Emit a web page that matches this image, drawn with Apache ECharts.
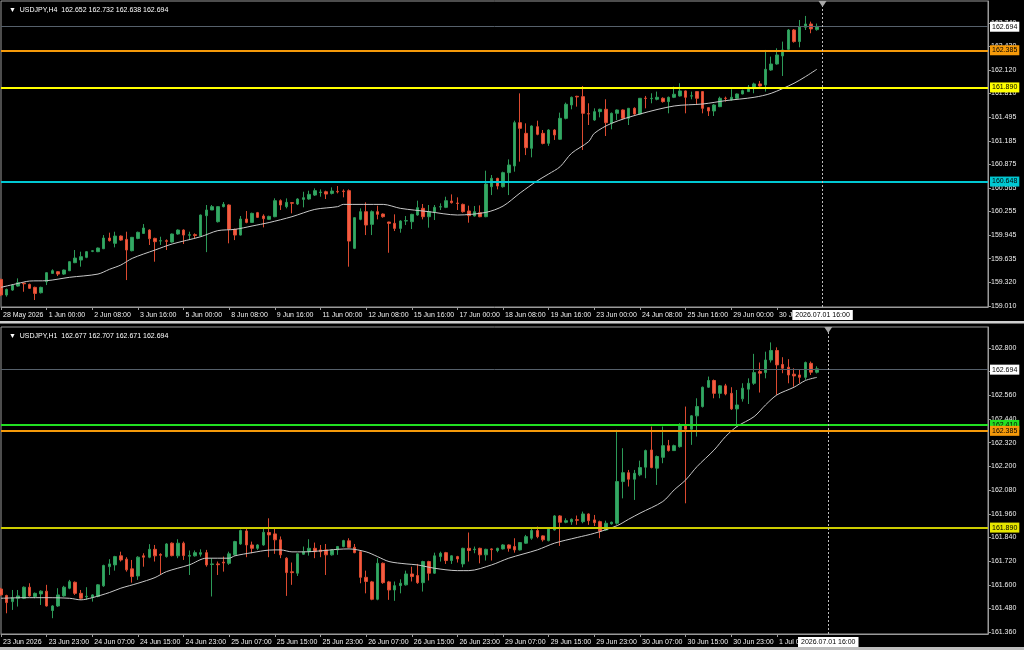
<!DOCTYPE html>
<html>
<head>
<meta charset="utf-8">
<title>USDJPY H4 / H1</title>
<script src="https://cdn.jsdelivr.net/npm/echarts@6/dist/echarts.min.js"></script>
<style>
  html, body { margin: 0; padding: 0; background: #000; }
  #chart { width: 1024px; height: 650px; }
</style>
</head>
<body>
<div id="chart"></div>
<script>
// H4 bars [open, close, low, high], 28 May 16:00 .. 1 Jul 12:00
const h4Candles = [
  [159.361,159.155,159.140,159.370],[159.155,159.229,159.133,159.240],[159.220,159.286,159.210,159.300],[159.273,159.317,159.265,159.374],
  [159.312,159.303,159.198,159.320],[159.295,159.243,159.235,159.305],[159.256,159.176,159.089,159.265],[159.185,159.256,159.175,159.265],
  [159.330,159.449,159.286,159.455],[159.440,159.475,159.435,159.493],[159.462,159.431,159.405,159.470],[159.431,159.484,159.420,159.490],
  [159.475,159.594,159.470,159.600],[159.581,159.642,159.575,159.748],[159.616,159.660,159.528,159.726],[159.651,159.726,159.640,159.735],
  [159.730,159.738,159.720,159.745],[159.726,159.774,159.720,159.780],[159.765,159.906,159.760,159.945],[159.906,159.871,159.860,159.976],
  [159.836,159.932,159.783,159.989],[159.932,159.879,159.870,159.940],[159.888,159.748,159.352,159.989],[159.739,159.915,159.730,159.920],
  [159.901,159.981,159.890,159.990],[159.967,160.038,159.960,160.090],[160.011,159.897,159.814,160.020],[159.901,159.858,159.594,159.910],
  [159.866,159.871,159.814,159.923],[159.871,159.862,159.748,159.888],[159.853,159.959,159.845,159.965],[159.959,160.011,159.950,160.020],
  [160.011,159.945,159.827,160.020],[159.942,159.950,159.879,159.989],[159.950,159.940,159.901,159.967],[159.932,160.209,159.925,160.215],
  [160.200,160.275,159.720,160.341],[160.275,160.319,160.280,160.341],[160.121,160.319,160.110,160.325],[160.319,160.350,160.310,160.380],
  [160.341,160.020,159.836,160.350],[160.020,159.945,159.879,160.030],[159.945,160.156,159.940,160.196],[160.156,160.112,160.100,160.262],
  [160.112,160.231,160.105,160.240],[160.240,160.178,160.170,160.250],[160.196,160.161,160.046,160.218],[160.152,160.191,160.145,160.200],
  [160.187,160.398,160.180,160.429],[160.398,160.341,160.275,160.415],[160.319,160.376,160.297,160.428],[160.372,160.364,160.231,160.380],
  [160.354,160.420,160.340,160.430],[160.415,160.437,160.310,160.516],[160.420,160.481,160.410,160.529],[160.472,160.530,160.460,160.560],
  [160.505,160.512,160.450,160.547],[160.516,160.485,160.420,160.530],[160.494,160.525,160.480,160.573],[160.520,160.514,160.494,160.591],
  [160.525,160.518,160.442,160.547],[160.530,159.866,159.528,160.547],[159.770,160.174,159.760,160.180],[160.152,160.253,160.140,160.297],
  [160.253,160.077,159.945,160.376],[160.086,160.253,159.945,160.270],[160.253,160.218,160.152,160.332],[160.222,160.187,160.174,160.230],
  [160.117,160.099,159.712,160.120],[160.099,160.033,159.998,160.218],[160.033,160.130,159.976,160.140],[160.130,160.135,160.077,160.196],
  [160.121,160.218,160.024,160.225],[160.209,160.306,160.200,160.398],[160.297,160.187,160.152,160.354],[160.187,160.253,160.042,160.341],
  [160.244,160.310,160.143,160.341],[160.314,160.319,160.275,160.363],[160.310,160.398,160.300,160.450],[160.393,160.371,160.360,160.481],
  [160.367,160.361,160.275,160.442],[160.349,160.253,160.240,160.360],[160.262,160.200,160.108,160.332],[160.196,160.253,160.190,160.328],
  [160.240,160.187,160.180,160.336],[160.187,160.617,160.180,160.793],[160.582,160.692,160.472,160.736],[160.692,160.591,160.547,160.700],
  [160.582,160.767,160.570,160.780],[160.767,160.868,160.472,160.942],[160.855,161.426,160.780,161.452],[161.426,161.351,160.912,161.812],
  [161.285,161.096,160.999,161.417],[161.088,161.382,160.969,161.390],[161.373,161.272,161.260,161.452],[161.285,161.153,161.140,161.329],
  [161.154,161.329,161.120,161.340],[161.329,161.264,161.198,161.340],[161.207,161.483,161.200,161.558],[161.483,161.668,161.470,161.690],
  [161.659,161.760,161.602,161.770],[161.773,161.765,161.637,161.780],[161.769,161.549,161.066,161.909],[161.545,161.540,161.395,161.681],
  [161.461,161.571,161.450,161.615],[161.571,161.602,161.496,161.610],[161.602,161.426,161.250,161.734],[161.417,161.549,161.338,161.560],
  [161.549,161.593,161.461,161.600],[161.593,161.483,161.470,161.600],[161.483,161.615,161.395,161.620],[161.615,161.540,161.530,161.628],
  [161.540,161.747,161.530,161.750],[161.749,161.745,161.615,161.778],[161.743,161.747,161.681,161.813],[161.734,161.760,161.720,161.835],
  [161.747,161.703,161.690,161.760],[161.703,161.760,161.549,161.770],[161.760,161.800,161.750,161.900],[161.778,161.844,161.770,161.945],
  [161.844,161.760,161.549,161.850],[161.776,161.780,161.734,161.835],[161.835,161.747,161.672,161.840],[161.835,161.615,161.549,161.840],
  [161.624,161.580,161.514,161.630],[161.580,161.659,161.514,161.670],[161.637,161.747,161.630,161.769],[161.749,161.745,161.703,161.769],
  [161.725,161.760,161.720,161.866],[161.747,161.804,161.740,161.810],[161.804,161.848,161.800,161.860],[161.835,161.892,161.830,161.922],
  [161.892,161.936,161.813,161.953],[161.936,161.909,161.900,161.975],[161.923,162.129,161.835,162.384],[162.120,162.199,162.110,162.296],
  [162.199,162.318,162.190,162.406],[162.305,162.384,162.041,162.494],[162.392,162.647,162.380,162.660],[162.647,162.494,162.480,162.660],
  [162.494,162.691,162.419,162.779],[162.683,162.726,162.647,162.832],[162.726,162.661,162.604,162.757],[162.652,162.694,162.638,162.732]
];

// H1 bars [open, close, low, high], 23 Jun 15:00 .. 1 Jul 14:00
const h1Candles = [
  [161.579,161.549,161.545,161.585],[161.546,161.510,161.456,161.550],[161.515,161.535,161.473,161.574],[161.532,161.544,161.490,161.574],
  [161.532,161.588,161.528,161.592],[161.588,161.544,161.540,161.608],[161.541,161.557,161.532,161.561],[161.554,161.568,161.498,161.572],
  [161.568,161.493,161.490,161.600],[161.470,161.493,161.431,161.497],[161.493,161.549,161.488,161.583],[161.544,161.588,161.540,161.595],
  [161.583,161.616,161.578,161.625],[161.613,161.557,161.549,161.617],[161.557,161.532,161.524,161.574],[161.539,161.542,161.524,161.588],
  [161.537,161.549,161.515,161.552],[161.541,161.600,161.537,161.604],[161.595,161.698,161.590,161.702],[161.692,161.706,161.650,161.730],
  [161.701,161.743,161.672,161.747],[161.747,161.726,161.718,161.768],[161.730,161.676,161.667,161.740],[161.681,161.642,161.611,161.726],
  [161.645,161.740,161.625,161.745],[161.747,161.740,161.692,161.760],[161.740,161.780,161.735,161.806],[161.780,161.747,161.718,161.802],
  [161.754,161.750,161.650,161.760],[161.743,161.807,161.738,161.811],[161.811,161.748,161.744,161.815],[161.747,161.811,161.735,161.831],
  [161.811,161.748,161.726,161.819],[161.745,161.749,161.650,161.774],[161.747,161.763,161.743,161.774],[161.755,161.763,161.743,161.780],
  [161.763,161.701,161.692,161.777],[161.703,161.706,161.541,161.735],[161.706,161.702,161.650,161.718],[161.715,161.711,161.667,161.743],
  [161.709,161.757,161.701,161.768],[161.752,161.819,161.748,161.823],[161.807,161.875,161.803,161.880],[161.873,161.802,161.740,161.887],
  [161.802,161.785,161.760,161.819],[161.785,161.802,161.777,161.806],[161.802,161.866,161.798,161.887],[161.865,161.853,161.740,161.937],
  [161.858,161.828,161.757,161.892],[161.828,161.752,161.735,161.845],[161.735,161.662,161.544,161.740],[161.666,161.662,161.600,161.713],
  [161.659,161.757,161.645,161.760],[161.755,161.768,161.752,161.794],[161.768,161.785,161.748,161.831],[161.785,161.768,161.735,161.814],
  [161.777,161.768,161.740,161.802],[161.777,161.752,161.650,161.807],[161.752,161.777,161.748,161.780],[161.777,161.794,161.752,161.797],
  [161.794,161.824,161.790,161.828],[161.823,161.790,161.786,161.836],[161.790,161.763,161.760,161.807],[161.768,161.638,161.608,161.772],
  [161.638,161.617,161.557,161.672],[161.615,161.527,161.522,161.620],[161.527,161.709,161.522,161.735],[161.709,161.611,161.605,161.713],
  [161.615,161.574,161.524,161.620],[161.574,161.596,161.519,161.617],[161.596,161.608,161.557,161.628],[161.600,161.655,161.596,161.672],
  [161.655,161.642,161.617,161.692],[161.647,161.611,161.605,161.706],[161.611,161.718,161.566,161.722],[161.718,161.659,161.622,161.722],
  [161.659,161.747,161.655,161.763],[161.743,161.760,161.718,161.768],[161.763,161.723,161.706,161.767],[161.723,161.747,161.706,161.750],
  [161.743,161.731,161.713,161.747],[161.706,161.785,161.689,161.788],[161.785,161.774,161.718,161.865],[161.778,161.781,161.760,161.794],
  [161.785,161.752,161.709,161.788],[161.752,161.780,161.723,161.783],[161.782,161.778,161.723,161.785],[161.774,161.785,161.765,161.788],
  [161.782,161.802,161.779,161.806],[161.802,161.785,161.768,161.805],[161.794,161.777,161.763,161.836],[161.777,161.814,161.774,161.817],
  [161.811,161.844,161.808,161.853],[161.836,161.875,161.828,161.892],[161.875,161.844,161.836,161.895],[161.848,161.828,161.819,161.851],
  [161.824,161.887,161.820,161.890],[161.878,161.949,161.875,161.953],[161.949,161.917,161.797,161.953],[161.917,161.925,161.912,161.937],
  [161.919,161.932,161.904,161.936],[161.930,161.927,161.904,161.951],[161.920,161.959,161.912,161.971],[161.959,161.925,161.904,161.962],
  [161.929,161.915,161.898,161.954],[161.920,161.872,161.836,161.925],[161.878,161.912,161.875,161.925],[161.909,161.917,161.905,161.920],
  [161.912,162.123,161.905,162.385],[162.123,162.168,162.038,162.292],[162.168,162.135,162.098,162.182],[162.135,162.165,162.030,162.182],
  [162.157,162.194,162.150,162.229],[162.196,162.280,162.140,162.285],[162.283,162.194,162.190,162.402],[162.191,162.250,162.106,162.255],
  [162.246,162.305,162.216,162.402],[162.305,162.280,162.275,162.334],[162.280,162.305,162.278,162.310],[162.300,162.410,162.295,162.418],
  [162.405,162.388,162.013,162.503],[162.388,162.456,162.309,162.460],[162.456,162.503,162.351,162.545],[162.503,162.601,162.498,162.604],
  [162.601,162.635,162.598,162.655],[162.635,162.570,162.545,162.640],[162.570,162.608,162.545,162.612],[162.608,162.567,162.560,162.618],
  [162.570,162.491,162.486,162.601],[162.491,162.511,162.402,162.587],[162.542,162.596,162.528,162.621],[162.591,162.621,162.516,162.646],
  [162.621,162.675,162.613,162.770],[162.680,162.672,162.574,162.726],[162.675,162.739,162.646,162.781],[162.739,162.787,162.726,162.828],
  [162.787,162.714,162.562,162.803],[162.716,162.697,162.672,162.753],[162.702,162.663,162.621,162.743],[162.667,162.658,162.604,162.697],
  [162.663,162.651,162.621,162.692],[162.651,162.726,162.638,162.731],[162.722,162.677,162.663,162.731],[162.677,162.694,162.671,162.707]
];

// moving average as [bar, value]
const h4Ma = [
  [0,159.256],[3,159.308],[5,159.339],[8,159.344],[12,159.388],[17,159.431],[19,159.493],[21,159.550],[23,159.638],
  [27,159.748],[30,159.827],[35,159.923],[38,160.003],[41,160.020],[44,160.064],[47,160.110],[51,160.187],[55,160.283],
  [59,160.319],[60,160.349],[67,160.349],[70,160.297],[75,160.253],[80,160.209],[85,160.244],[88,160.327],[91,160.500],
  [94,160.660],[96,160.750],[98,160.846],[100,161.022],[103,161.176],[104,161.286],[107,161.417],[112,161.540],
  [118,161.646],[123,161.672],[127,161.716],[132,161.760],[135,161.813],[139,161.945],[141,162.032],[143,162.129]
];
const h1Ma = [
  [0,161.532],[4,161.535],[8,161.535],[12,161.532],[14,161.524],[16,161.535],[19,161.561],[21,161.583],[24,161.608],
  [27,161.637],[29,161.667],[33,161.701],[36,161.735],[40,161.735],[41,161.747],[44,161.763],[47,161.776],[49,161.777],
  [51,161.767],[53,161.767],[56,161.772],[59,161.780],[61,161.782],[64,161.767],[66,161.743],[68,161.718],[71,161.706],
  [73,161.701],[76,161.684],[80,161.672],[82,161.672],[86,161.701],[89,161.735],[94,161.777],[97,161.811],[101,161.840],
  [104,161.861],[108,161.900],[110,161.932],[112,161.963],[116,162.022],[118,162.081],[120,162.131],[122,162.199],
  [125,162.283],[127,162.351],[129,162.402],[132,162.452],[134,162.511],[136,162.562],[139,162.601],[141,162.635],[143,162.651]
];

// horizontal price levels
const h4Levels = [162.694, 162.385, 161.890, 160.648];
const h1Levels = [162.694, 162.410, 162.385, 161.890];

// price ticks on the right scale
const h4PriceTicks = [159.010,159.320,159.635,159.945,160.255,160.565,160.875,161.185,161.495,161.810,162.120,162.430,162.740];
const h1PriceTicks = [161.360,161.480,161.600,161.720,161.840,161.960,162.080,162.200,162.320,162.440,162.560,162.680,162.800];

// time ticks (bar index, text)
const h4TimeIdx = [0,8,16,24,32,40,48,56,64,72,80,88,96,104,112,120,128,136];
const h4TimeText = ['28 May 2026','1 Jun 00:00','2 Jun 08:00','3 Jun 16:00','5 Jun 00:00','8 Jun 08:00','9 Jun 16:00',
  '11 Jun 00:00','12 Jun 08:00','15 Jun 16:00','17 Jun 00:00','18 Jun 08:00','19 Jun 16:00','23 Jun 00:00',
  '24 Jun 08:00','25 Jun 16:00','29 Jun 00:00','30 Jun 08:00'];
const h1TimeIdx = [0,8,16,24,32,40,48,56,64,72,80,88,96,104,112,120,128,136];
const h1TimeText = ['23 Jun 2026','23 Jun 23:00','24 Jun 07:00','24 Jun 15:00','24 Jun 23:00','25 Jun 07:00','25 Jun 15:00',
  '25 Jun 23:00','26 Jun 07:00','26 Jun 15:00','26 Jun 23:00','29 Jun 07:00','29 Jun 15:00','29 Jun 23:00',
  '30 Jun 07:00','30 Jun 15:00','30 Jun 23:00','1 Jul 07:00'];

const markerTime = '2026.07.01 16:00';
const h4MarkerBar = 144;
const h1MarkerBar = 145;

const SLOTS = 174; // visible bars incl. the shifted empty space on the right
const cats = Array.from({ length: SLOTS }, (_, i) => String(i));

const FONT = "'Liberation Sans', 'DejaVu Sans', sans-serif";
const TXT = 7;
const frameColor = '#9a9a9a';
const upColor = '#34a865';
const downColor = '#f25c42';

const h4LevelColors = ['#ffffff', '#f59a0a', '#ffff00', '#00c8d2'];
const h4LineColors = ['#56606b', '#f59a0a', '#ffff00', '#00c8d2'];
const h1LevelColors = ['#ffffff', '#22e022', '#f59a0a', '#e6e600'];
const h1LineColors = ['#56606b', '#22e022', '#f59a0a', '#cccc00'];

function header(name, c) {
  // MT4 shows O H L C of the last bar
  return '\u25BC  ' + name + '  ' + [c[0], c[3], c[2], c[1]].map(v => v.toFixed(3)).join(' ');
}

function timeAxis(gridIndex, idx, text) {
  const lookup = {};
  idx.forEach((k, j) => { lookup[k] = text[j]; });
  const show = (i) => lookup[i] !== undefined;
  return {
    type: 'category',
    gridIndex: gridIndex,
    data: cats,
    boundaryGap: false,
    axisLine: { show: true, lineStyle: { color: frameColor, width: 1 } },
    axisTick: { show: true, interval: show, length: 3, lineStyle: { color: frameColor } },
    axisLabel: {
      interval: show,
      showMinLabel: true,
      formatter: (v, i) => lookup[i] || '',
      align: 'left',
      color: '#f0f0f0',
      fontSize: TXT,
      fontFamily: FONT,
      margin: 5,
      padding: [0, 0, 0, 2]
    },
    splitLine: { show: false }
  };
}

function priceAxis(gridIndex, min, max, ticks) {
  return {
    type: 'value',
    gridIndex: gridIndex,
    position: 'right',
    min: min,
    max: max,
    axisLine: { show: true, lineStyle: { color: frameColor, width: 1 } },
    axisTick: { show: true, customValues: ticks, length: 3, lineStyle: { color: frameColor } },
    axisLabel: {
      customValues: ticks,
      formatter: v => v.toFixed(3),
      color: '#f0f0f0',
      fontSize: TXT,
      fontFamily: FONT,
      margin: 3
    },
    splitLine: { show: false }
  };
}

function levelLines(levels, labelColors, lineColors, markerBar) {
  const data = levels.map((v, i) => ({
    yAxis: v,
    lineStyle: { color: lineColors[i], width: i === 0 ? 1 : 2, type: 'solid' },
    label: {
      show: true,
      position: 'end',
      distance: 2,
      formatter: v.toFixed(3),
      backgroundColor: labelColors[i],
      color: '#000',
      fontSize: TXT,
      fontFamily: FONT,
      padding: [2, 2, 1, 2]
    }
  }));
  data.push({
    xAxis: markerBar,
    lineStyle: { color: '#bdbdbd', width: 1, type: [2, 2] },
    label: {
      show: true,
      position: 'start',
      distance: 3,
      formatter: markerTime,
      backgroundColor: '#ffffff',
      color: '#000',
      fontSize: TXT,
      fontFamily: FONT,
      padding: [2, 3, 1, 3]
    }
  });
  return { silent: true, symbol: ['none', 'none'], animation: false, data: data };
}

function candleSeries(ax, candles, levels, labelColors, lineColors, markerBar, yMax) {
  return {
    type: 'candlestick',
    xAxisIndex: ax,
    yAxisIndex: ax,
    data: candles,
    barWidth: 3,
    itemStyle: {
      color: upColor,
      color0: downColor,
      borderColor: '#2c9a58',
      borderColor0: '#dc4a30',
      borderWidth: 1
    },
    markLine: levelLines(levels, labelColors, lineColors, markerBar),
    markPoint: {
      silent: true,
      animation: false,
      label: { show: false },
      data: [{
        coord: [String(markerBar), yMax],
        symbol: 'triangle',
        symbolRotate: 180,
        symbolSize: [8, 6],
        symbolOffset: [0, 3],
        itemStyle: { color: '#a8a8a8' }
      }]
    }
  };
}

function maSeries(ax, pts) {
  return {
    type: 'line',
    xAxisIndex: ax,
    yAxisIndex: ax,
    data: pts,
    showSymbol: false,
    smooth: 0.3,
    z: 3,
    lineStyle: { color: '#c8c8c8', width: 1 }
  };
}

const H4_MIN = 158.997, H4_MAX = 163.029;
const H1_MIN = 161.351, H1_MAX = 162.906;

const chart = echarts.init(document.getElementById('chart'));
chart.setOption({
  animation: false,
  backgroundColor: '#000',
  title: [
    { text: header('USDJPY,H4', h4Candles[h4Candles.length - 1]), left: 4, top: 2,
      textStyle: { color: '#fff', fontSize: TXT, fontWeight: 'normal', fontFamily: FONT } },
    { text: header('USDJPY,H1', h1Candles[h1Candles.length - 1]), left: 4, top: 328,
      textStyle: { color: '#fff', fontSize: TXT, fontWeight: 'normal', fontFamily: FONT } }
  ],
  grid: [
    { left: 0, top: 1, width: 988, height: 306, show: true, borderColor: frameColor, borderWidth: 1, backgroundColor: 'transparent' },
    { left: 0, top: 327, width: 988, height: 307, show: true, borderColor: frameColor, borderWidth: 1, backgroundColor: 'transparent' }
  ],
  xAxis: [
    timeAxis(0, h4TimeIdx, h4TimeText),
    timeAxis(1, h1TimeIdx, h1TimeText)
  ],
  yAxis: [
    priceAxis(0, H4_MIN, H4_MAX, h4PriceTicks),
    priceAxis(1, H1_MIN, H1_MAX, h1PriceTicks)
  ],
  series: [
    candleSeries(0, h4Candles, h4Levels, h4LevelColors, h4LineColors, h4MarkerBar, H4_MAX),
    maSeries(0, h4Ma),
    candleSeries(1, h1Candles, h1Levels, h1LevelColors, h1LineColors, h1MarkerBar, H1_MAX),
    maSeries(1, h1Ma)
  ],
  graphic: [
    { type: 'rect', shape: { x: 0, y: 321, width: 1024, height: 2 }, style: { fill: '#cfcfcf' }, silent: true },
    { type: 'rect', shape: { x: 0, y: 323, width: 1024, height: 1 }, style: { fill: '#6e6e6e' }, silent: true },
    { type: 'rect', shape: { x: 0, y: 647, width: 1024, height: 3 }, style: { fill: '#bdbdbd' }, silent: true }
  ]
});
</script>
</body>
</html>
